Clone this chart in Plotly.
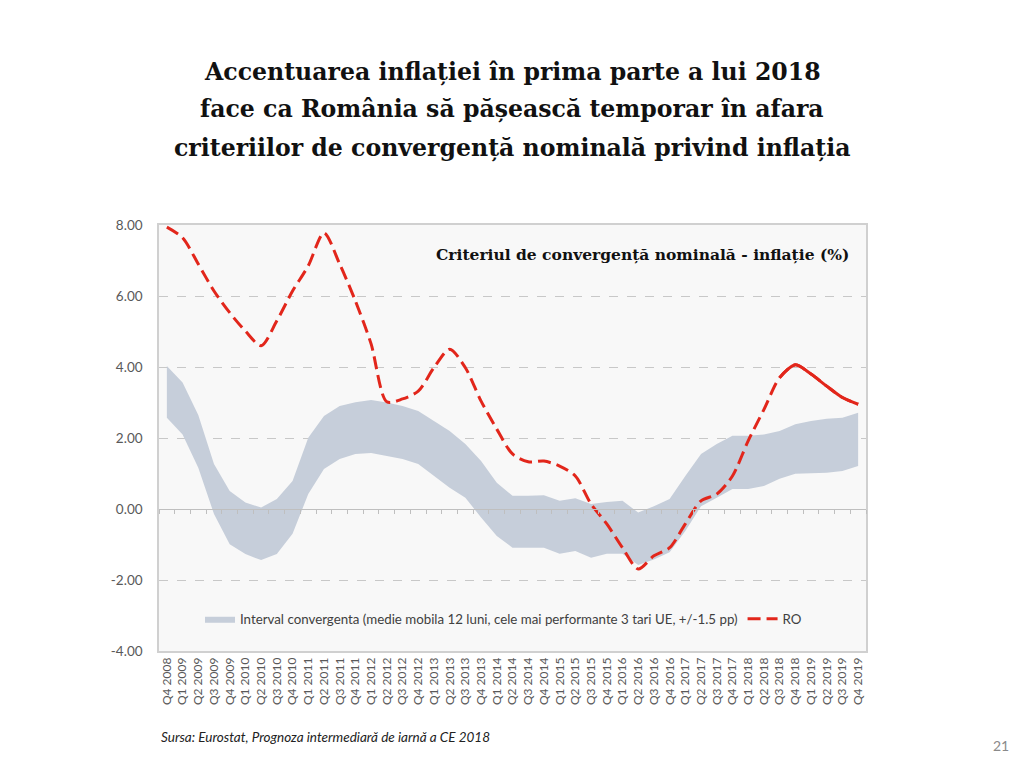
import plotly.graph_objects as go

quarters = [
    "Q4 2008", "Q1 2009", "Q2 2009", "Q3 2009", "Q4 2009",
    "Q1 2010", "Q2 2010", "Q3 2010", "Q4 2010",
    "Q1 2011", "Q2 2011", "Q3 2011", "Q4 2011",
    "Q1 2012", "Q2 2012", "Q3 2012", "Q4 2012",
    "Q1 2013", "Q2 2013", "Q3 2013", "Q4 2013",
    "Q1 2014", "Q2 2014", "Q3 2014", "Q4 2014",
    "Q1 2015", "Q2 2015", "Q3 2015", "Q4 2015",
    "Q1 2016", "Q2 2016", "Q3 2016", "Q4 2016",
    "Q1 2017", "Q2 2017", "Q3 2017", "Q4 2017",
    "Q1 2018", "Q2 2018", "Q3 2018", "Q4 2018",
    "Q1 2019", "Q2 2019", "Q3 2019", "Q4 2019",
]

ro = [
    7.94, 7.64, 6.90, 6.14, 5.53,
    5.01, 4.60, 5.30, 6.14,
    6.85, 7.78, 6.90, 5.86,
    4.65, 3.02, 3.10, 3.32,
    3.98, 4.50, 3.98, 3.04,
    2.25, 1.55, 1.33, 1.35,
    1.21, 0.93, 0.14, -0.42,
    -1.09, -1.69, -1.32, -1.09,
    -0.42, 0.23, 0.42, 0.93,
    1.92, 2.80, 3.70, 4.06,
    3.80, 3.46, 3.14, 2.95,
]

band_high = [
    4.03, 3.56, 2.65, 1.27, 0.51,
    0.18, 0.04, 0.28, 0.79,
    2.01, 2.62, 2.90, 3.01,
    3.07, 3.00, 2.90, 2.76,
    2.48, 2.20, 1.83, 1.35,
    0.74, 0.37, 0.37, 0.39,
    0.23, 0.30, 0.14, 0.20,
    0.23, -0.10, 0.08, 0.28,
    0.93, 1.55, 1.83, 2.06,
    2.06, 2.10, 2.20, 2.39,
    2.48, 2.54, 2.57, 2.71,
]

band_low = [
    2.57, 2.10, 1.16, -0.14, -0.99,
    -1.27, -1.44, -1.27, -0.70,
    0.42, 1.13, 1.41, 1.55,
    1.58, 1.49, 1.41, 1.27,
    0.93, 0.60, 0.32, -0.24,
    -0.76, -1.09, -1.09, -1.09,
    -1.26, -1.18, -1.37, -1.26,
    -1.26, -1.58, -1.42, -1.22,
    -0.62, 0.08, 0.32, 0.56,
    0.56, 0.65, 0.85, 0.99,
    1.01, 1.02, 1.07, 1.21,
]

y_ticks = [-4, -2, 0, 2, 4, 6, 8]
y_tick_labels = ["-4.00", "-2.00", "0.00", "2.00", "4.00", "6.00", "8.00"]

band_name = "Interval convergenta (medie mobila 12 luni, cele mai performante 3 tari UE, +/-1.5 pp)"
ro_name = "RO"
solid_from = "Q3 2018"

title_lines = [
    "Accentuarea inflației în prima parte a lui 2018",
    "face ca România să pășească temporar în afara",
    "criteriilor de convergență nominală privind inflația",
]
inner_title = "Criteriul de convergență nominală - inflație (%)"
source_text = "Sursa: Eurostat, Prognoza intermediară de iarnă a CE 2018"
page_number = "21"

RED = "#e2261b"
BAND = "#c6ceda"
SANS = "Lato, 'Open Sans', 'Liberation Sans', sans-serif"
SERIF = "'DejaVu Serif', Georgia, serif"

fig = go.Figure()

fig.add_trace(go.Scatter(
    x=quarters, y=band_low, mode="lines", line=dict(width=0, color=BAND),
    showlegend=False, hoverinfo="skip",
))
fig.add_trace(go.Scatter(
    x=quarters, y=band_high, mode="lines", line=dict(width=0, color=BAND),
    fill="tonexty", fillcolor=BAND, name=band_name,
))
fig.add_trace(go.Scatter(
    x=quarters, y=ro, mode="lines", name=ro_name,
    line=dict(color=RED, width=3, dash="13px,6px", shape="spline", smoothing=0.8),
))
k = quarters.index(solid_from)
fig.add_trace(go.Scatter(
    x=quarters[k:], y=ro[k:], mode="lines", showlegend=False, hoverinfo="skip",
    line=dict(color=RED, width=3, shape="spline", smoothing=0.8),
))
# carrier trace for the zero-axis line
fig.add_trace(go.Scatter(
    x=quarters, y=[None] * len(quarters), xaxis="x2", mode="lines",
    showlegend=False, hoverinfo="skip",
))

L, R, T, B = 159, 158, 225, 117
W, H = 1024, 768
pw, ph = W - L - R, H - T - B


def px_x(x):
    return (x - L) / pw


def px_y(y):
    return (H - B - y) / ph


annotations = []
for text, yy in zip(title_lines, [72, 109, 148]):
    annotations.append(dict(
        text="<b>" + text + "</b>", x=px_x(512), y=px_y(yy), xref="paper", yref="paper",
        xanchor="center", yanchor="middle", showarrow=False,
        font=dict(family=SERIF, size=23.6, color="#111111"),
    ))
annotations.append(dict(
    text="<b>" + inner_title + "</b>", x=px_x(851), y=px_y(254), xref="paper", yref="paper",
    xanchor="right", yanchor="middle", showarrow=False,
    font=dict(family=SERIF, size=15.5, color="#111111"),
))
annotations.append(dict(
    text="<i>" + source_text + "</i>", x=px_x(159), y=px_y(737), xref="paper", yref="paper",
    xanchor="left", yanchor="middle", showarrow=False,
    font=dict(family=SANS, size=13.5, color="#222222"),
))
annotations.append(dict(
    text=page_number, x=px_x(1001), y=px_y(745), xref="paper", yref="paper",
    xanchor="center", yanchor="middle", showarrow=False,
    font=dict(family=SANS, size=14, color="#8a8a8a"),
))

fig.update_layout(
    width=W, height=H,
    margin=dict(l=L, r=R, t=T, b=B, pad=0),
    paper_bgcolor="white", plot_bgcolor="#f8f8f8",
    showlegend=True,
    legend=dict(
        orientation="h", x=px_x(200), y=px_y(619), xanchor="left", yanchor="middle",
        bgcolor="rgba(0,0,0,0)", font=dict(family=SANS, size=13.3, color="#404040"),
        itemwidth=30, tracegroupgap=0, traceorder="normal",
    ),
    xaxis=dict(
        type="category", range=[-0.5, len(quarters) - 0.5],
        showgrid=False, showline=True, mirror=True, linecolor="#d0d0d0", linewidth=1.5,
        ticks="", tickangle=-90, tickfont=dict(family=SANS, size=12, color="#595959"),
        zeroline=False,
    ),
    xaxis2=dict(
        type="category", overlaying="x", anchor="free", position=(0 - (-4)) / 12,
        range=[-0.5, len(quarters) - 0.5], side="bottom",
        showgrid=False, showline=True, linecolor="#bfbfbf", linewidth=1,
        ticks="outside", ticklen=4, tickcolor="#bfbfbf", tickson="boundaries",
        showticklabels=False, zeroline=False,
    ),
    yaxis=dict(
        range=[-4, 8], tickvals=y_ticks, ticktext=y_tick_labels,
        showgrid=True, gridcolor="#c8c8c8", griddash="dash", gridwidth=1,
        zeroline=False, showline=True, mirror=True, linecolor="#d0d0d0", linewidth=1.5,
        ticks="", ticklabelstandoff=12,
        tickfont=dict(family=SANS, size=13.5, color="#595959"),
    ),
    annotations=annotations,
)

fig.write_html("out.html")
